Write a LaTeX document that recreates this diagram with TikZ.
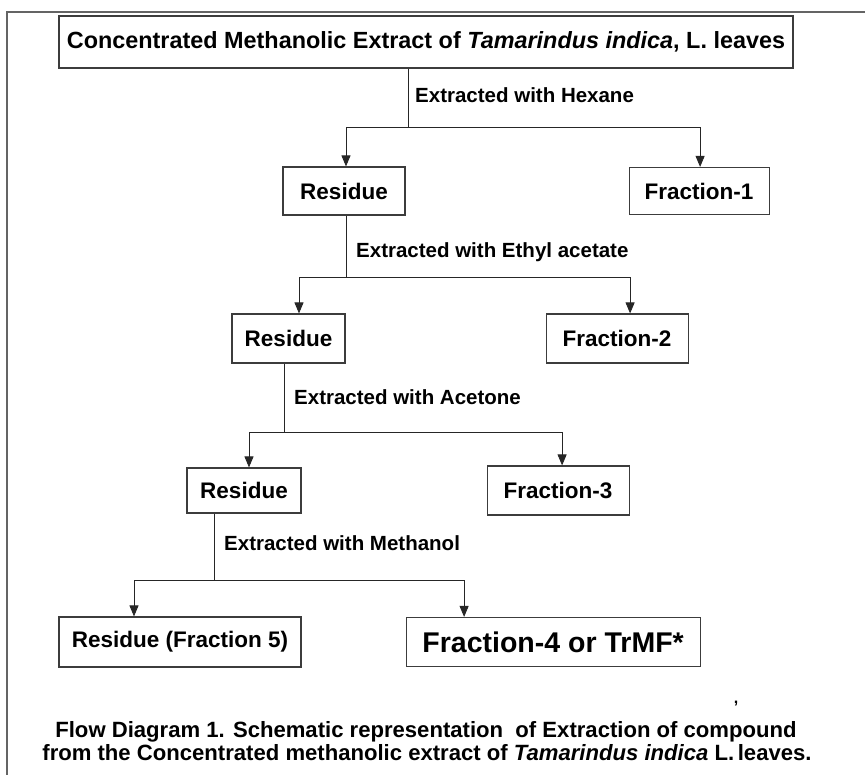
\documentclass[tikz,border=0pt]{standalone}
\usepackage{fontspec}
\setmainfont{Liberation Sans}
\usetikzlibrary{arrows.meta, positioning}
\definecolor{framegray}{RGB}{100,100,100}
\definecolor{edgegray}{RGB}{60,60,60}

\begin{document}
\begin{tikzpicture}[
    x=1pt, y=-1pt,
    box/.style={rectangle, draw=edgegray, line width=1.1pt, inner sep=0pt, align=center, font=\bfseries\fontsize{22.5}{26}\selectfont},
    note/.style={anchor=west, inner sep=0pt, font=\bfseries\fontsize{20.5}{24}\selectfont},
    caption/.style={anchor=base, inner sep=0pt, font=\bfseries\fontsize{22.1}{25}\selectfont},
    link/.style={draw=black!85, line width=0.9pt},
    arrow/.style={link, -{Triangle[length=11pt, width=9pt]}}
]
\useasboundingbox (0,0) rectangle (865,775);

% Frame
\draw[framegray, line width=1.6pt] (7,775) -- (7,12) -- (865,12);

% Extract
\node[box, minimum width=734pt, minimum height=52pt, font=\bfseries\fontsize{23.4}{27}\selectfont] (extract) at (426,42)
    {Concentrated Methanolic Extract of \textit{Tamarindus indica}, L. leaves};

% Step 1
\node[box, minimum width=122pt, minimum height=48pt] (res1) at (344,191) {Residue};
\node[box, minimum width=140pt, minimum height=47pt, right=223pt of res1] (frac1) {Fraction-1};
\coordinate (j1) at (408,127);
\node[note] (hexane) at (415,95) {Extracted with Hexane};

\draw[link] (extract.south -| j1) -- (j1);
\draw[arrow] (j1) -| ([xshift=2pt]res1.north);
\draw[arrow] (j1) -| ([xshift=1pt]frac1.north);

% Step 2
\node[box, minimum width=113pt, minimum height=49pt] (res2) at (288.5,338.5) {Residue};
\node[box, minimum width=142pt, minimum height=49pt, right=200pt of res2] (frac2) {Fraction-2};
\coordinate (j2) at (346,277);
\node[note] (ethyl) at (356,252) {Extracted with Ethyl acetate};

\draw[link] (res1.south -| j2) -- (j2);
\draw[arrow] (j2) -| ([xshift=10.5pt]res2.north);
\draw[arrow] (j2) -| ([xshift=13pt]frac2.north);

% Step 3
\node[box, minimum width=114pt, minimum height=45pt] (res3) at (244,490.5) {Residue};
\node[box, minimum width=142pt, minimum height=49pt, right=185pt of res3] (frac3) {Fraction-3};
\coordinate (j3) at (284,432);
\node[note] (acetone) at (294,397) {Extracted with Acetone};

\draw[link] (res2.south -| j3) -- (j3);
\draw[arrow] (j3) -| ([xshift=5pt]res3.north);
\draw[arrow] (j3) -| ([xshift=4pt]frac3.north);

% Step 4
\node[box, minimum width=242pt, minimum height=50pt] (res5) at (180,642) {Residue (Fraction 5)};
\node[box, minimum width=294pt, minimum height=49pt, right=104pt of res5, font=\bfseries\fontsize{28.5}{32}\selectfont] (frac4) {Fraction-4 or TrMF*};
\coordinate (j4) at (214,580);
\node[note] (methanol) at (224,543) {Extracted with Methanol};

\draw[link] (res3.south -| j4) -- (j4);
\draw[arrow] (j4) -| ([xshift=-46pt]res5.north);
\draw[arrow] (j4) -| ([xshift=-89pt]frac4.north);

% Caption
\node[caption, font=\bfseries\fontsize{16}{18}\selectfont] (comma) at (736,703) {,};
\node[caption] (cap1) at (426,737) {Flow Diagram 1. Schematic representation~ of Extraction of compound};
\node[caption] (cap2) at (427,760) {from the Concentrated methanolic extract of \textit{Tamarindus indica} L.\,leaves.};

\end{tikzpicture}
\end{document}
